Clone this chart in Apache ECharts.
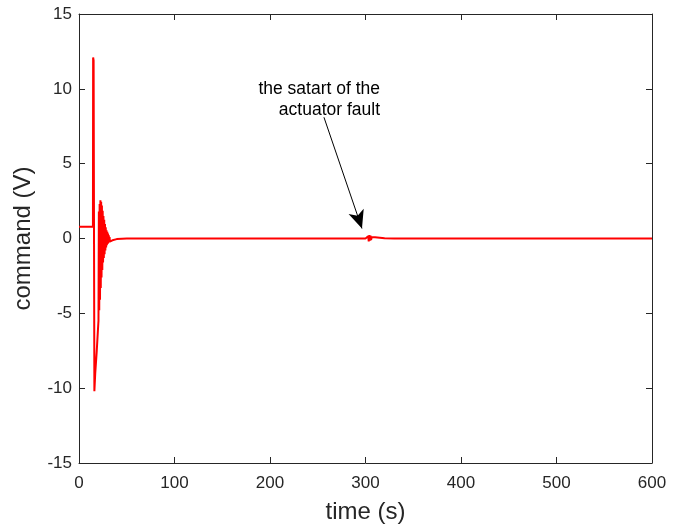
<!DOCTYPE html>
<html>
<head>
<meta charset="utf-8">
<script src="https://cdn.jsdelivr.net/npm/echarts/dist/echarts.min.js"></script>
<style>
  html, body { margin: 0; padding: 0; background: #ffffff; }
  #chart { width: 685px; height: 529px; }
</style>
</head>
<body>
<div id="chart"></div>
<script>
// ---- data ----
// start-up segment (time s, command V)
const startTime  = [0, 5, 10, 14.6, 14.8, 15.3, 16.1, 17.0, 18.5, 20.2];
const startValue = [0.78, 0.78, 0.78, 0.78, 12.1, 11.9, -10.2, -9.0, -7.6, -5.7];

// fast oscillation after the start-up spike (alternating peaks / troughs)
const oscTime  = [20.4, 20.8, 21.2, 21.6, 22.0, 22.4, 22.8, 23.2, 23.6, 24.0, 24.4, 24.8, 25.2, 25.6, 26.0, 26.4,
                  26.8, 27.2, 27.6, 28.0, 28.4, 28.8, 29.2, 29.6, 30.0, 30.4, 30.8, 31.2, 31.6, 32.0, 32.4];
const oscValue = [-5.5, 1.8, -4.8, 2.3, -4.1, 2.55, -3.3, 2.45, -2.6, 2.2, -2.1, 1.85, -1.6, 1.5, -1.3, 1.25,
                  -1.05, 0.97, -0.8, 0.75, -0.6, 0.55, -0.45, 0.45, -0.36, 0.33, -0.3, 0.22, -0.25, 0.1, -0.2];

// settling segment
const settleTime  = [35, 39.5, 45, 50, 100, 200, 300, 302];
const settleValue = [-0.12, -0.04, -0.01, 0, 0, 0, 0, 0];

// actuator fault disturbance
const faultTime  = [302.8, 303.4, 304.0, 304.6, 305.2, 305.8, 306.5, 310, 315, 320, 330, 400, 500, 600];
const faultValue = [0.15, -0.2, 0.22, -0.15, 0.2, -0.1, 0.08, 0.08, 0.05, 0.02, 0, 0, 0, 0];

// axis ticks
const xTicks = [0, 100, 200, 300, 400, 500, 600];
const yTicks = [-15, -10, -5, 0, 5, 10, 15];

// annotation
const annotationText = ['the satart of the', 'actuator fault'];
const arrowFrom = [256.5, 8.1];
const arrowTo   = [296.3, 0.67];

// ---- build series ----
const allTime  = [].concat(startTime, oscTime, settleTime, faultTime);
const allValue = [].concat(startValue, oscValue, settleValue, faultValue);
const lineData = allTime.map((t, i) => [t, allValue[i]]);

const FONT = '"Liberation Sans", Arial, Helvetica, sans-serif';
const AXIS_COLOR = '#262626';

const xMin = xTicks[0], xMax = xTicks[xTicks.length - 1], xStep = xTicks[1] - xTicks[0];
const yMin = yTicks[0], yMax = yTicks[yTicks.length - 1], yStep = yTicks[1] - yTicks[0];

function xAxisCfg(pos, showLabel, name) {
  return {
    type: 'value', position: pos, min: xMin, max: xMax, interval: xStep,
    name: name || '', nameLocation: 'middle', nameGap: 37,
    nameTextStyle: { fontFamily: FONT, fontSize: 24, color: AXIS_COLOR },
    axisLine: { show: true, onZero: false, lineStyle: { color: AXIS_COLOR, width: 1 } },
    axisTick: { show: true, inside: true, length: 6, lineStyle: { color: AXIS_COLOR } },
    axisLabel: { show: showLabel, fontFamily: FONT, fontSize: 17, color: AXIS_COLOR, margin: 12 },
    splitLine: { show: false }
  };
}
function yAxisCfg(pos, showLabel, name) {
  return {
    type: 'value', position: pos, min: yMin, max: yMax, interval: yStep,
    name: name || '', nameLocation: 'middle', nameGap: 44,
    nameTextStyle: { fontFamily: FONT, fontSize: 24, color: AXIS_COLOR },
    axisLine: { show: true, onZero: false, lineStyle: { color: AXIS_COLOR, width: 1 } },
    axisTick: { show: true, inside: true, length: 6, lineStyle: { color: AXIS_COLOR } },
    axisLabel: { show: showLabel, fontFamily: FONT, fontSize: 17, color: AXIS_COLOR, margin: 7 },
    splitLine: { show: false }
  };
}

const chart = echarts.init(document.getElementById('chart'), null, { renderer: 'canvas' });
chart.setOption({
  animation: false,
  backgroundColor: '#ffffff',
  grid: { left: 79, right: 33, top: 14, bottom: 65, containLabel: false },
  xAxis: [xAxisCfg('bottom', true, 'time (s)'), xAxisCfg('top', false)],
  yAxis: [yAxisCfg('left', true, 'command (V)'), yAxisCfg('right', false)],
  graphic: [{
    type: 'text', x: 380, y: 78, z: 10,
    style: {
      text: annotationText.join('\n'), align: 'right', verticalAlign: 'top',
      font: '17.5px ' + FONT, lineHeight: 21.5, fill: '#000000'
    }
  }],
  series: [{
    type: 'line',
    xAxisIndex: 0, yAxisIndex: 0,
    data: lineData,
    showSymbol: false,
    symbol: 'none',
    lineStyle: { color: '#ff0000', width: 2 },
    itemStyle: { color: '#ff0000' },
    markLine: {
      silent: true,
      animation: false,
      label: { show: false },
      lineStyle: { color: '#000000', width: 1, type: 'solid' },
      data: [[
        { coord: arrowFrom, symbol: 'none' },
        { coord: arrowTo, symbol: 'arrow', symbolSize: [12, 18] }
      ]]
    }
  }]
});
</script>
</body>
</html>
